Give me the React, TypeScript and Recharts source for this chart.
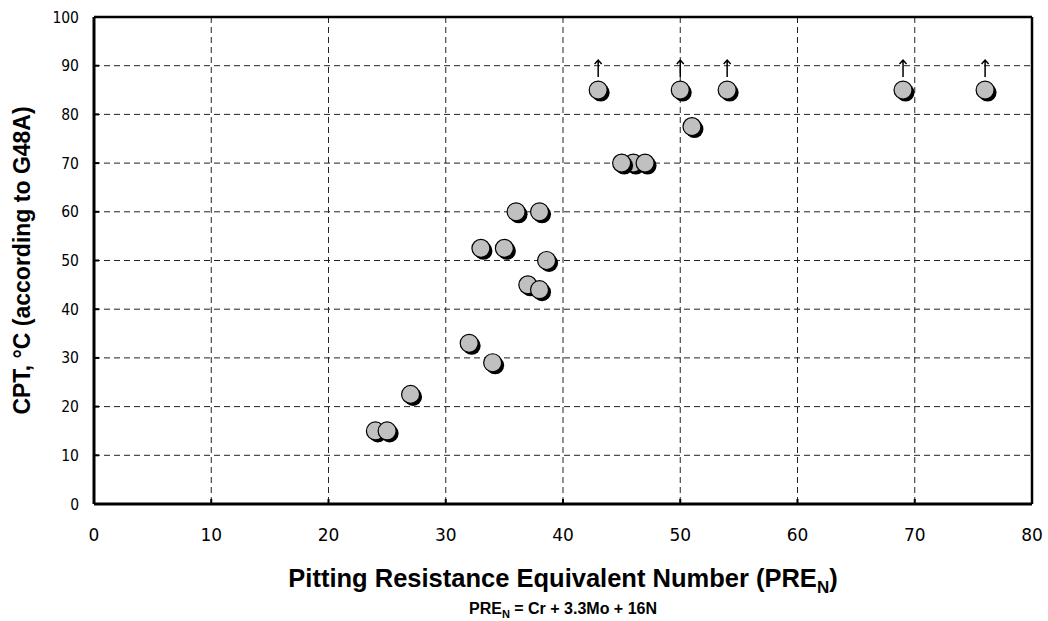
import { ScatterChart, Scatter, XAxis, YAxis, CartesianGrid, ReferenceLine, Label } from "recharts";

// PRE_N values, CPT values, and whether the CPT is only a lower bound (drawn with an arrow)
const pren = [24, 25, 27, 32, 34, 33, 35, 36, 38, 37, 38, 38.6, 46, 45, 47, 51, 43, 50, 54, 69, 76];
const cpt = [15, 15, 22.5, 33, 29, 52.5, 52.5, 60, 60, 45, 44, 50, 70, 70, 70, 77.5, 85, 85, 85, 85, 85];
const atLeast = [false, false, false, false, false, false, false, false, false, false, false, false, false, false, false, false, true, true, true, true, true];

const xTicks = [0, 10, 20, 30, 40, 50, 60, 70, 80];
const yTicks = [0, 10, 20, 30, 40, 50, 60, 70, 80, 90, 100];

const data = pren.map((x, i) => ({ x, y: cpt[i], up: atLeast[i] }));

const yTickFont = "'DejaVu Sans Condensed', 'DejaVu Sans', sans-serif";
const xTickFont = "'DejaVu Sans', sans-serif";
const titleFont = "'Liberation Sans', Arial, sans-serif";

function Marker(props: any) {
    const { cx, cy, payload } = props;
    const r = 9;
    return (
        <g>
            <circle cx={cx + 2.5} cy={cy + 2.5} r={r} fill="#000" />
            <circle cx={cx} cy={cy} r={r} fill="#c0c0c0" stroke="#000" strokeWidth={1.2} />
            {payload.up && (
                <path
                    d={`M${cx},${cy - r - 4} V${cy - r - 21} M${cx - 3.5},${cy - r - 17} L${cx},${cy - r - 21} L${cx + 3.5},${cy - r - 17}`}
                    stroke="#000"
                    strokeWidth={1.5}
                    fill="none"
                />
            )}
        </g>
    );
}

function XTitle({ viewBox }: any) {
    const cx = viewBox.x + viewBox.width / 2;
    return (
        <g fontFamily={titleFont} fontWeight="bold" fill="#000" textAnchor="middle">
            <text x={cx} y={viewBox.y + 83} fontSize={25.5}>
                Pitting Resistance Equivalent Number (PRE<tspan dy={6} fontSize={17}>N</tspan><tspan dy={-6}>)</tspan>
            </text>
            <text x={cx} y={viewBox.y + 110} fontSize={16}>
                PRE<tspan dy={4} fontSize={11}>N</tspan><tspan dy={-4}> = Cr + 3.3Mo + 16N</tspan>
            </text>
        </g>
    );
}

function YTitle({ viewBox }: any) {
    const cy = viewBox.y + viewBox.height / 2;
    return (
        <text
            x={22}
            y={cy}
            transform={`rotate(-90, 22, ${cy})`}
            textAnchor="middle"
            dominantBaseline="central"
            fontFamily={titleFont}
            fontWeight="bold"
            fontSize={23}
            fill="#000"
        >
            CPT, °C (according to G48A)
        </text>
    );
}

export default function App() {
    return (
        <div style={{ position: "absolute", left: 0, top: 0, width: 1048, height: 621, background: "#fff" }}>
            <ScatterChart width={1048} height={621} margin={{ top: 17, right: 16, bottom: 0, left: 0 }}>
                <CartesianGrid stroke="#222" strokeDasharray="6 4" />
                <XAxis
                    type="number"
                    dataKey="x"
                    domain={[0, 80]}
                    ticks={xTicks}
                    height={117}
                    axisLine={{ stroke: "#000", strokeWidth: 3 }}
                    tickLine={{ stroke: "#000", strokeWidth: 2 }}
                    tickSize={-5}
                    tickMargin={30}
                    tick={{ fontFamily: xTickFont, fontSize: 17, fill: "#000" }}
                >
                    <Label content={XTitle} />
                </XAxis>
                <YAxis
                    type="number"
                    dataKey="y"
                    domain={[0, 100]}
                    ticks={yTicks}
                    width={94}
                    axisLine={{ stroke: "#000", strokeWidth: 3 }}
                    tickLine={{ stroke: "#000", strokeWidth: 2 }}
                    tickSize={-5}
                    tickMargin={20}
                    tick={{ fontFamily: yTickFont, fontSize: 15.5, fill: "#000" }}
                >
                    <Label content={YTitle} />
                </YAxis>
                <ReferenceLine y={100} stroke="#000" strokeWidth={2.5} />
                <ReferenceLine x={80} stroke="#000" strokeWidth={2.5} />
                <Scatter data={data} shape={Marker} isAnimationActive={false} />
            </ScatterChart>
        </div>
    );
}
